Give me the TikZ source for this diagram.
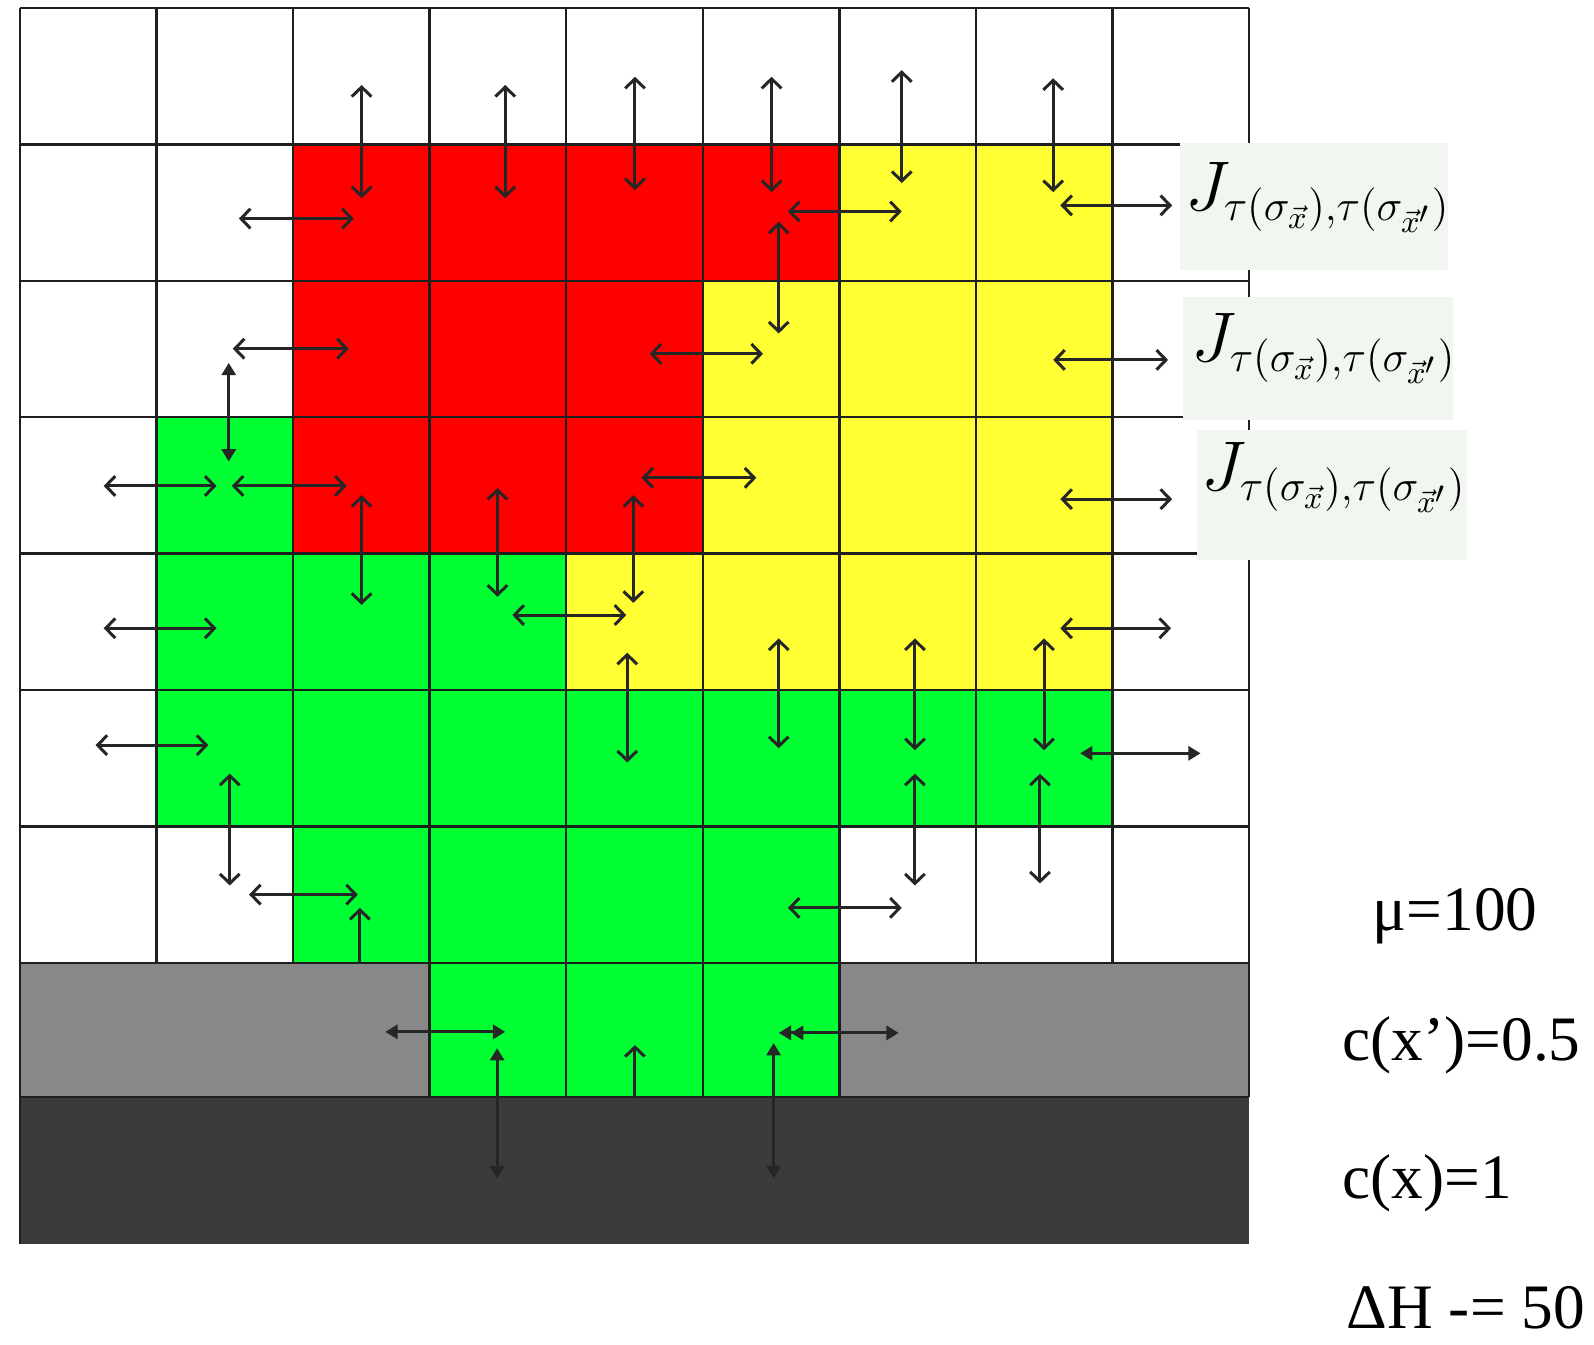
\RequirePackage{fix-cm}
\documentclass[tikz,border=0pt]{standalone}
\usepackage{fontspec}
\newfontfamily\tms{Liberation Serif}
\usetikzlibrary{arrows.meta}
\DeclareMathSizes{20}{20}{12.4}{9}
\definecolor{cred}{RGB}{255,0,0}
\definecolor{cyel}{RGB}{255,255,51}
\definecolor{cgrn}{RGB}{0,255,51}
\definecolor{clgr}{RGB}{136,136,136}
\definecolor{cdgr}{RGB}{59,59,59}
\definecolor{cpatch}{RGB}{242,246,241}
\definecolor{cline}{RGB}{30,30,30}
\tikzset{
  gl/.style={line width=0.7pt, draw=cline},
  dbl/.style={line width=0.85pt, draw=black!85, {Straight Barb[length=2.7pt,width=5.6pt]}-{Straight Barb[length=2.7pt,width=5.6pt]}},
  dblf/.style={line width=0.85pt, draw=black!85, {Triangle[length=3.5pt,width=4pt]}-{Triangle[length=3.5pt,width=4pt]}},
  sng/.style={line width=0.85pt, draw=black!85, -{Straight Barb[length=2.7pt,width=5.6pt]}},
  jlab/.style={anchor=base west, inner sep=0pt, font=\fontsize{20}{24}\selectfont},
  parlab/.style={anchor=base west, inner sep=0pt, text depth=0pt, font=\tms\fontsize{18}{22}\selectfont},
}
\newcommand\Jlab{$J_{\tau(\sigma_{\vec{x}}),\tau(\sigma_{\vec{x}'})}$}
\begin{document}
\begin{tikzpicture}[x=0.01cm,y=-0.01cm]
\useasboundingbox (0,0) rectangle (1594,1344);
\fill[white] (0,0) rectangle (1594,1344);
\def\cw{136.56}\def\ch{136.4}
% coloured cells
\foreach \c/\r in {2/1,3/1,4/1,5/1,2/2,3/2,4/2,2/3,3/3,4/3}
  \fill[cred] ({20+\c*\cw},{8+\r*\ch}) rectangle ++(\cw,\ch);
\foreach \c/\r in {6/1,7/1,5/2,6/2,7/2,5/3,6/3,7/3,4/4,5/4,6/4,7/4}
  \fill[cyel] ({20+\c*\cw},{8+\r*\ch}) rectangle ++(\cw,\ch);
\foreach \c/\r in {1/3,1/4,2/4,3/4,1/5,2/5,3/5,4/5,5/5,6/5,7/5,2/6,3/6,4/6,5/6}
  \fill[cgrn] ({20+\c*\cw},{8+\r*\ch}) rectangle ++(\cw,\ch);
\fill[cgrn] ({20+3*\cw},962.8) rectangle ({20+6*\cw},1097);
\fill[clgr] (20,962.8) rectangle ({20+3*\cw},1097);
\fill[clgr] ({20+6*\cw},962.8) rectangle (1249,1097);
\fill[cdgr] (20,1097) rectangle (1249,1244);
% grid lines
\foreach \r in {0,...,7} \draw[gl] (20,{8+\r*\ch}) -- (1249,{8+\r*\ch});
\draw[gl] (20,1097) -- (1249,1097);
\foreach \c in {0,...,9} \draw[gl] ({20+\c*\cw},8) -- ({20+\c*\cw},962.8);
\foreach \c in {3,4,5,6} \draw[gl] ({20+\c*\cw},962.8) -- ({20+\c*\cw},1097);
\draw[gl] (20,8) -- (20,1244);
\draw[gl] (1249,962.8) -- (1249,1097);
% label patches
\fill[cpatch] (1180,143) rectangle (1448,270);
\fill[cpatch] (1183,297) rectangle (1453,420);
\fill[cpatch] (1197,430) rectangle (1467,560);
% arrows (coordinates in reduced image units)
\begin{scope}[scale=1.01658]
  % vertical open double arrows
  \foreach \x/\a/\b in {355.7/83.6/195, 497/83.6/195, 624.6/75.5/187, 759/75.5/189,
      887/69/180, 1036/77/189, 766/218/328, 355.7/487/595, 489.4/480/587,
      623/487/593, 617/642/750, 766/628/736, 900/628/738, 1027/628/738,
      226/761/871, 900/761/871, 1023/761/869}
    \draw[dbl] (\x,\a) -- (\x,\b);
  % horizontal open double arrows
  \foreach \a/\b/\y in {235/348/215, 775/887/208, 1043/1153/202, 229/343/343,
      639/750.5/348, 1036/1149/354, 102/213/478, 228/341/478, 631/744/470,
      1043/1153/491, 102/213/618, 504/616/605, 1043/1152/618, 94/205/733,
      245/352/880, 775/887/893}
    \draw[dbl] (\a,\y) -- (\b,\y);
  % filled double arrows
  \draw[dblf] (225,357) -- (225,454);
  \draw[dblf] (1062.5,741) -- (1181,741);
  \draw[dblf] (379,1015) -- (497,1015);
  \draw[dblf] (489,1031) -- (489,1159);
  \draw[line width=0.85pt, draw=black!85,
        {Triangle[length=3.5pt,width=4pt] Triangle[length=3.5pt,width=4pt]}-{Triangle[length=3.5pt,width=4pt]}]
        (766,1016) -- (884,1016);
  \draw[dblf] (761,1026) -- (761,1159);
  % single arrows
  \draw[sng] (354,947) -- (354,893);
  \draw[sng] (624.6,1080) -- (624.6,1028);
\end{scope}
% labels
\node[jlab] (j1) at (1185,210) {\Jlab};
\node[jlab] (j2) at (1191,361) {\Jlab};
\node[jlab] (j3) at (1201,490) {\Jlab};
\node[parlab] (mu) at (1372,930) {μ=100};
\node[parlab] (cxp) at (1342,1060) {c(x’)=0.5};
\node[parlab] (cx) at (1342,1198) {c(x)=1};
\node[parlab] (dh) at (1346,1328) {ΔH -= 50};
\end{tikzpicture}
\end{document}
